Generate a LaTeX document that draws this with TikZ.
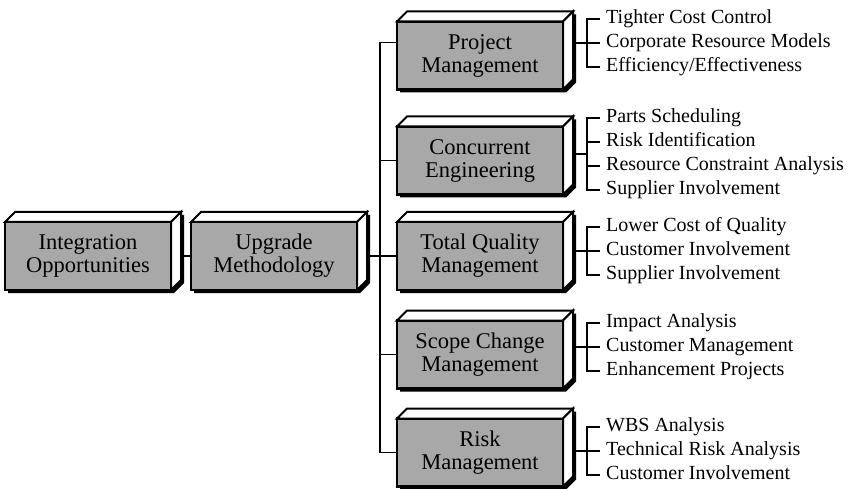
\documentclass[tikz,border=0pt]{standalone}
\usepackage{fontspec}
\setmainfont{Liberation Serif}
\usepackage{tikz}
\usetikzlibrary{positioning, calc, backgrounds}

\definecolor{slabgray}{RGB}{168,168,168}

% side, top and shadow of a raised box around its front face
\newcommand{\slab}[1]{%
  \begin{scope}[on background layer]
    \fill[black] ([shift={(3,3)}]#1.south west) -- ([shift={(3,3)}]#1.north west)
      -- ([shift={(13,-7)}]#1.north west) -- ([shift={(13,-7)}]#1.north east)
      -- ([shift={(13,-7)}]#1.south east) -- ([shift={(3,3)}]#1.south east) -- cycle;
  \end{scope}
  \draw[slabface] (#1.north west) -- ([shift={(10,-10)}]#1.north west)
    -- ([shift={(10,-10)}]#1.north east) -- (#1.north east) -- cycle;
  \draw[slabface] (#1.north east) -- ([shift={(10,-10)}]#1.north east)
    -- ([shift={(10,-10)}]#1.south east) -- (#1.south east) -- cycle;
}

\begin{document}
\begin{tikzpicture}[
  x=1pt, y=-1pt,
  stage/.style={draw, line width=2.4pt, fill=slabgray, align=center, outer sep=0pt,
    minimum width=166pt, minimum height=68pt, inner sep=0pt,
    font=\fontsize{22.5}{23}\selectfont},
  slabface/.style={draw, fill=white, line width=2pt},
  item/.style={anchor=west, inner xsep=6pt, inner ysep=2.5pt, text height=14pt, text depth=4.5pt,
    font=\fontsize{20}{24}\selectfont},
  link/.style={line width=1.6pt},
  bracket/.style={line width=2.2pt},
]
 \useasboundingbox (0,0) rectangle (854,489);

 % ---- main boxes ----
 \node[stage] (io) at (88,256) {Integration\\Opportunities};
 \node[stage] (um) at (274,256) {Upgrade\\Methodology};

 \node[stage] (pm) at (480,55.5) {Project\\Management};
 \node[stage] (cm) at (480,160.5) {Concurrent\\Engineering};
 \node[stage] (tq) at (480,256) {Total Quality\\Management};
 \node[stage] (sc) at (480,354.5) {Scope Change\\Management};
 \node[stage] (rk) at (480,452.5) {Risk\\Management};

 % ---- item lists ----
 \node[item] (pm1) at (600,19) {Tighter Cost Control};
 \node[item, below=0pt of pm1.south west, anchor=north west] (pm2) {Corporate Resource Models};
 \node[item, below=0pt of pm2.south west, anchor=north west] (pm3) {Efficiency/Effectiveness};

 \node[item] (cm1) at (600,118) {Parts Scheduling};
 \node[item, below=0pt of cm1.south west, anchor=north west] (cm2) {Risk Identification};
 \node[item, below=0pt of cm2.south west, anchor=north west] (cm3) {Resource Constraint Analysis};
 \node[item, below=0pt of cm3.south west, anchor=north west] (cm4) {Supplier Involvement};

 \node[item] (tq1) at (600,227) {Lower Cost of Quality};
 \node[item, below=0pt of tq1.south west, anchor=north west] (tq2) {Customer Involvement};
 \node[item, below=0pt of tq2.south west, anchor=north west] (tq3) {Supplier Involvement};

 \node[item] (sc1) at (600,323) {Impact Analysis};
 \node[item, below=0pt of sc1.south west, anchor=north west] (sc2) {Customer Management};
 \node[item, below=0pt of sc2.south west, anchor=north west] (sc3) {Enhancement Projects};

 \node[item] (rk1) at (600,427) {WBS Analysis};
 \node[item, below=0pt of rk1.south west, anchor=north west] (rk2) {Technical Risk Analysis};
 \node[item, below=0pt of rk2.south west, anchor=north west] (rk3) {Customer Involvement};

 \coordinate (trunk) at (380,0);
 \coordinate (rail) at (587,0);
 \coordinate (cmmid) at ($(cm2.west)!0.5!(cm3.west)$);

 % ---- tree lines ----
 \draw[link] (io.east) -- (um.west);
 \draw[link] (um.east) -- (um.east -| trunk);
 \draw[link] ([yshift=13pt]pm.west) -| (rk.west -| trunk) -- (rk.west);
 \draw[link] (cm.west -| trunk) -- (cm.west);
 \draw[link] (tq.west -| trunk) -- (tq.west);
 \draw[link] (sc.west -| trunk) -- (sc.west);

 % ---- brackets ----
 \draw[link] (pm.east |- pm2.west) -- (pm2.west -| rail);
 \draw[bracket] (pm1.west) -- (pm1.west -| rail) -- (pm3.west -| rail) -- (pm3.west);
 \draw[bracket] (pm2.west -| rail) -- (pm2.west);

 \draw[link] (cm.east |- cmmid) -- (cmmid -| rail);
 \draw[bracket] (cm1.west) -- (cm1.west -| rail) -- (cm4.west -| rail) -- (cm4.west);
 \draw[bracket] (cm2.west -| rail) -- (cm2.west);
 \draw[bracket] (cm3.west -| rail) -- (cm3.west);

 \draw[link] (tq.east |- tq2.west) -- (tq2.west -| rail);
 \draw[bracket] (tq1.west) -- (tq1.west -| rail) -- (tq3.west -| rail) -- (tq3.west);
 \draw[bracket] (tq2.west -| rail) -- (tq2.west);

 \draw[link] (sc.east |- sc2.west) -- (sc2.west -| rail);
 \draw[bracket] (sc1.west) -- (sc1.west -| rail) -- (sc3.west -| rail) -- (sc3.west);
 \draw[bracket] (sc2.west -| rail) -- (sc2.west);

 \draw[link] (rk.east |- rk2.west) -- (rk2.west -| rail);
 \draw[bracket] (rk1.west) -- (rk1.west -| rail) -- (rk3.west -| rail) -- (rk3.west);
 \draw[bracket] (rk2.west -| rail) -- (rk2.west);

 % ---- raised look ----
 \slab{io}
 \slab{um}
 \slab{pm}
 \slab{cm}
 \slab{tq}
 \slab{sc}
 \slab{rk}

\end{tikzpicture}
\end{document}
